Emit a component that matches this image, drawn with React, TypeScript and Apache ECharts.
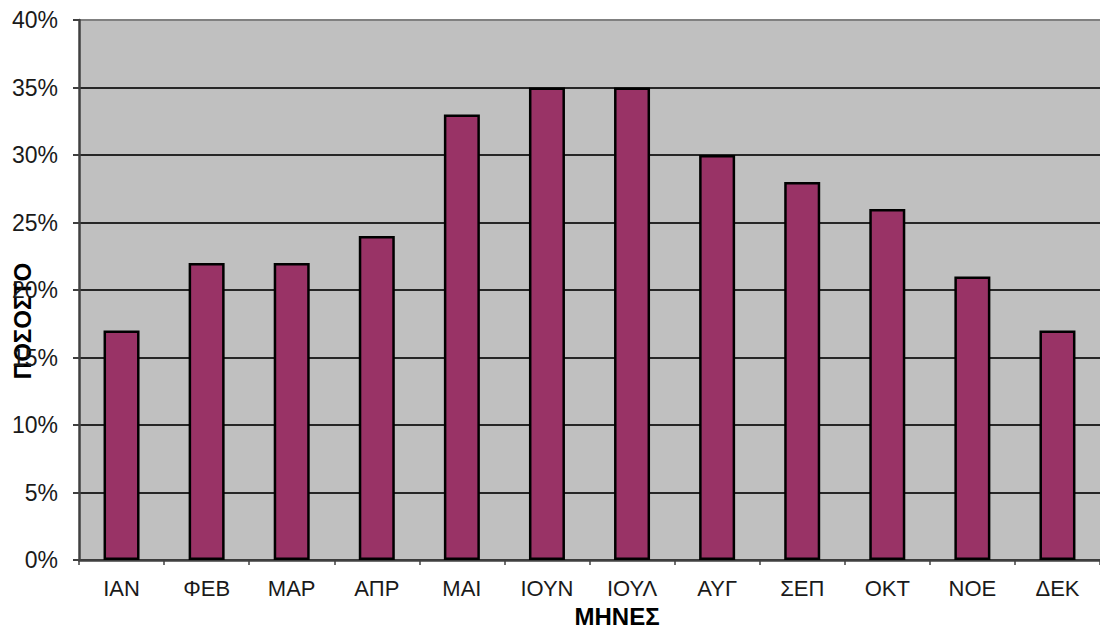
import React, { useEffect, useRef } from "react";
import * as echarts from "echarts";

const months = ["ΙΑΝ", "ΦΕΒ", "ΜΑΡ", "ΑΠΡ", "ΜΑΙ", "ΙΟΥΝ", "ΙΟΥΛ", "ΑΥΓ", "ΣΕΠ", "ΟΚΤ", "ΝΟΕ", "ΔΕΚ"];
const percentages = [17, 22, 22, 24, 33, 35, 35, 30, 28, 26, 21, 17];
const yTitle = "ΠΟΣΟΣΤΟ";
const xTitle = "ΜΗΝΕΣ";

export default function App() {
  const ref = useRef<HTMLDivElement>(null);
  useEffect(() => {
    if (!ref.current) return;
    const chart = echarts.init(ref.current, null, { renderer: "svg" });
    const font = "'Liberation Sans', Arial, sans-serif";
    chart.setOption({
      animation: false,
      backgroundColor: "#ffffff",
      grid: { left: 79, top: 20, width: 1026, height: 540, backgroundColor: "#C0C0C0", show: true, borderWidth: 0 },
      xAxis: {
        type: "category",
        data: months,
        axisLine: { show: true, lineStyle: { color: "#404040", width: 2.5 } },
        axisTick: { show: true, alignWithLabel: false, length: 5, lineStyle: { color: "#404040", width: 1.5 } },
        axisLabel: { color: "#1a1a1a", fontFamily: font, fontSize: 22, margin: 17 },
        splitLine: { show: false },
      },
      yAxis: {
        type: "value",
        min: 0,
        max: 40,
        interval: 5,
        axisLine: { show: true, lineStyle: { color: "#404040", width: 2.5 } },
        axisTick: { show: true, length: 6, lineStyle: { color: "#404040", width: 2 } },
        axisLabel: { color: "#1a1a1a", fontFamily: font, fontSize: 23, margin: 21, formatter: (v: number) => v + "%" },
        splitLine: {
          show: true,
          lineStyle: { color: ["#333333", "#262626", "#262626", "#262626", "#262626", "#262626", "#262626", "#262626", "#808080"], width: 2 },
        },
      },
      series: [
        {
          type: "bar",
          data: percentages,
          barWidth: 36,
          itemStyle: { color: "#993366", borderColor: "#000000", borderWidth: 2.5 },
        },
      ],
      graphic: [
        {
          type: "text",
          x: 22,
          y: 321,
          rotation: Math.PI / 2,
          style: { text: yTitle, font: `bold 24px ${font}`, fill: "#000", align: "center", verticalAlign: "middle" },
        },
        {
          type: "text",
          x: 617,
          y: 616,
          style: { text: xTitle, font: `bold 24px ${font}`, fill: "#000", align: "center", verticalAlign: "middle" },
        },
      ],
    });
    return () => chart.dispose();
  }, []);
  return <div ref={ref} style={{ position: "fixed", left: 0, top: 0, width: 1100, height: 630 }} />;
}
